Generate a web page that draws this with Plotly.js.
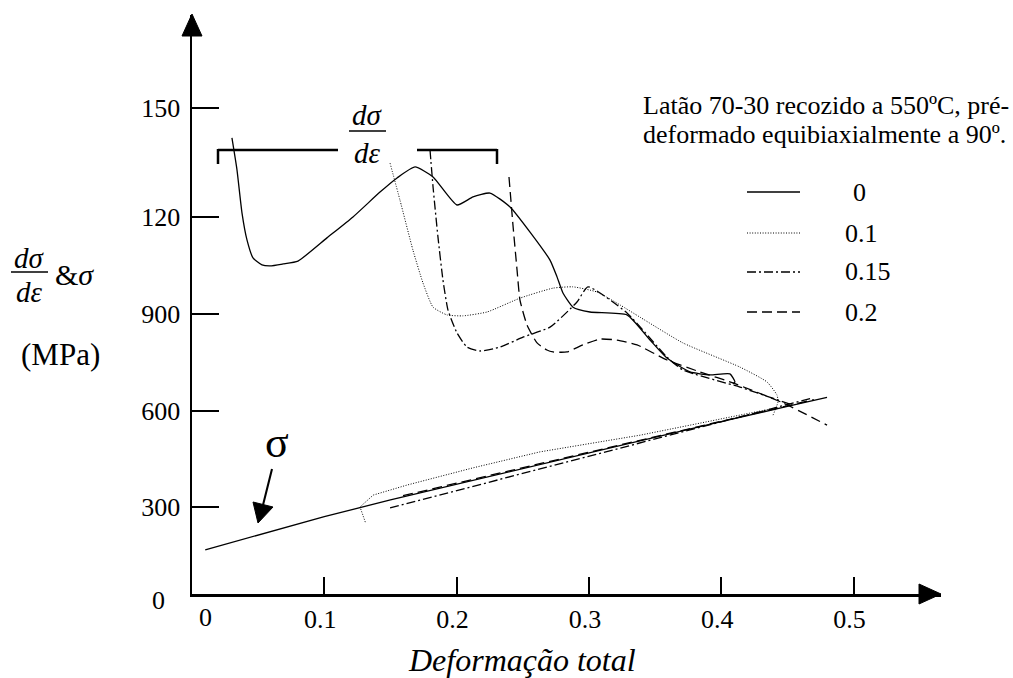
<!DOCTYPE html>
<html>
<head>
<meta charset="utf-8">
<script src="https://cdn.plot.ly/plotly-3.0.1.min.js"></script>
<style>
html,body{margin:0;padding:0;background:#fff;}
#chart{width:1013px;height:678px;}
</style>
</head>
<body>
<div id="chart"></div>
<script>
// ---------- data ----------
const xTickVals = [0.1, 0.2, 0.3, 0.4, 0.5];
const xTickText = ['0.1', '0.2', '0.3', '0.4', '0.5'];
const yTickVals = [300, 600, 900, 1200, 1540];
const yTickText = ['300', '600', '900', '120', '150'];
const seriesNames = ['0', '0.1', '0.15', '0.2'];

// pre-strain 0 : stress and hardening rate
const sig0X = [0.01, 0.05, 0.1, 0.15, 0.2, 0.25, 0.3, 0.35, 0.4, 0.45, 0.48];
const sig0Y = [168, 214, 271, 323, 372, 421, 470, 519, 566, 613, 641];
const rate0X = [0.0302, 0.0340, 0.0378, 0.0416, 0.0461, 0.0529, 0.0590, 0.0688, 0.0801, 0.1020, 0.1217, 0.1421, 0.1550, 0.1686, 0.1822, 0.2003, 0.2124, 0.2252, 0.2404, 0.2555, 0.2706, 0.2759, 0.2804, 0.2880, 0.3008, 0.3288, 0.3462, 0.3590, 0.3764, 0.3915, 0.4066, 0.4104, 0.4089];
const rate0Y = [1446, 1347, 1213, 1129, 1074, 1052, 1049, 1055, 1064, 1136, 1201, 1278, 1322, 1356, 1325, 1238, 1263, 1275, 1232, 1154, 1067, 1015, 965, 921, 906, 897, 819, 763, 720, 711, 714, 689, 683];

// pre-strain 0.1
const sig01X = [0.131, 0.127, 0.137, 0.1625, 0.212, 0.263, 0.339, 0.40, 0.4407];
const sig01Y = [254, 301, 338, 369, 422, 472, 524, 575, 608];
const rate01X = [0.1497, 0.1572, 0.1670, 0.1746, 0.1822, 0.1927, 0.2048, 0.2230, 0.2479, 0.2729, 0.2880, 0.3061, 0.3235, 0.3386, 0.3711, 0.4142, 0.4346, 0.4422, 0.4429, 0.4392];
const rate01Y = [1368, 1253, 1098, 996, 921, 897, 894, 906, 949, 980, 984, 968, 928, 890, 810, 735, 689, 648, 627, 586];

// pre-strain 0.15
const sig015X = [0.1497, 0.25, 0.3386, 0.469];
const sig015Y = [298, 405, 500, 639];
const rate015X = [0.1799, 0.1822, 0.1859, 0.1897, 0.1935, 0.2003, 0.2079, 0.2177, 0.2328, 0.2502, 0.2706, 0.2910, 0.2993, 0.3288, 0.3590, 0.3711, 0.4142, 0.452];
const rate015Y = [1409, 1294, 1139, 1005, 912, 841, 797, 785, 797, 828, 859, 937, 984, 903, 766, 726, 673, 620];

// pre-strain 0.2
const sig02X = [0.1595, 0.25, 0.35, 0.47];
const sig02Y = [336, 423, 521, 634];
const rate02X = [0.2396, 0.2426, 0.2457, 0.2479, 0.2532, 0.2608, 0.2683, 0.2729, 0.2834, 0.2955, 0.3084, 0.3212, 0.3364, 0.3590, 0.3840, 0.4089, 0.4467, 0.4800];
const rate02Y = [1325, 1176, 1036, 943, 866, 810, 788, 782, 782, 804, 822, 819, 804, 757, 720, 686, 624, 555];

// ---------- styles ----------
const TXT_FONT = 'Liberation Serif';
const styles = [
  {dash: 'solid', width: 1.3},
  {dash: '1px,1.6px', width: 1},
  {dash: '9px,3px,2px,3px', width: 1.3},
  {dash: '10px,5px', width: 1.3}
];

// plot area in pixels
const L = 192, R = 941, T = 15, B = 594;
const W = 1013, H = 678;
const px = x => (x - L) / (R - L);
const py = y => (B - y) / (B - T);

const pairs = [[sig0X, sig0Y, rate0X, rate0Y], [sig01X, sig01Y, rate01X, rate01Y],
               [sig015X, sig015Y, rate015X, rate015Y], [sig02X, sig02Y, rate02X, rate02Y]];
const traces = [];
pairs.forEach((p, i) => {
  const line = {color: 'black', width: styles[i].width, dash: styles[i].dash, shape: 'spline', smoothing: 0.5};
  traces.push({x: p[0], y: p[1], mode: 'lines', line: Object.assign({}, line, {shape: 'linear'}), name: seriesNames[i] + ' σ', showlegend: false});
  traces.push({x: p[2], y: p[3], mode: 'lines', line: line, name: seriesNames[i] + ' dσ/dε', showlegend: false});
});

const shapes = [];
const annotations = [];
const seg = (x0, y0, x1, y1, w, dash) => shapes.push({type: 'line', xref: 'paper', yref: 'paper',
  x0: px(x0), y0: py(y0), x1: px(x1), y1: py(y1), line: {color: 'black', width: w || 2.5, dash: dash || 'solid'}});
const tri = (pts) => shapes.push({type: 'path', xref: 'paper', yref: 'paper',
  path: 'M ' + pts.map(p => px(p[0]) + ' ' + py(p[1])).join(' L ') + ' Z',
  fillcolor: 'black', line: {color: 'black', width: 1}});
const text = (t, x, y, size, opts) => annotations.push(Object.assign({text: t, xref: 'paper', yref: 'paper',
  x: px(x), y: py(y), showarrow: false, xanchor: 'center', yanchor: 'middle',
  font: {family: TXT_FONT, size: size, color: 'black'}}, opts || {}));

// axis arrowheads
tri([[941, 594], [919, 584], [919, 604]]);
tri([[192, 14], [182, 36], [202, 36]]);

// bracket around dσ/dε label
seg(218, 150, 338, 150); seg(417, 150, 497, 150);
seg(218, 149, 218, 164); seg(497, 149, 497, 164);
text('<i>dσ</i>', 367, 115, 29);
seg(349, 131, 386, 131, 1.5);
text('<i>dε</i>', 367, 153, 29);

// y axis title
text('<i>dσ</i>', 29, 258, 29);
seg(11, 272, 48, 272, 1.5);
text('<i>dε</i>', 29, 292, 29);
text('&amp;<i>σ</i>', 74, 274, 30);
text('(MPa)', 60, 354, 31);

// zero labels
text('0', 158, 601, 26);
text('0', 205, 617, 26);

// x axis title
text('<i>Deformação total</i>', 522, 660, 32);

// sigma arrow
text('σ', 277, 442, 44);
seg(272, 469, 263, 505, 2);
tri([[258, 523], [253, 502], [273, 507]]);

// description
text('Latão 70-30 recozido a 550ºC, pré-', 641, 106, 26, {xanchor: 'left'});
text('deformado equibiaxialmente a 90º.', 641, 135, 26, {xanchor: 'left'});

// legend
const legY = [192, 233, 272, 312];
const legLabelX = [851, 843, 843, 843];
seriesNames.forEach((n, i) => {
  seg(747, legY[i], 800, legY[i], styles[i].width, styles[i].dash);
  text(n, legLabelX[i], legY[i], 26, {xanchor: 'left'});
});

const layout = {
  width: W, height: H,
  margin: {l: L, r: W - R, t: T, b: H - B, pad: 0},
  paper_bgcolor: 'white', plot_bgcolor: 'white',
  font: {family: TXT_FONT, color: 'black', size: 26},
  showlegend: false,
  xaxis: {range: [0, (R - L) / 1323], tickvals: xTickVals, ticktext: xTickText,
          ticks: 'inside', ticklen: 17, tickwidth: 2, tickcolor: 'black',
          showline: true, linewidth: 2.5, linecolor: 'black', showgrid: false, zeroline: false,
          ticklabelshift: -4, ticklabelstandoff: 0,
          tickfont: {family: TXT_FONT, size: 26, color: 'black'}},
  yaxis: {range: [(604 - 594) / 0.3223, (604 - 15) / 0.3223], tickvals: yTickVals, ticktext: yTickText,
          ticks: 'inside', ticklen: 27, tickwidth: 2, tickcolor: 'black',
          showline: true, linewidth: 2.5, linecolor: 'black', showgrid: false, zeroline: false,
          ticklabelstandoff: 4,
          tickfont: {family: TXT_FONT, size: 26, color: 'black'}},
  shapes: shapes,
  annotations: annotations
};

Plotly.newPlot('chart', traces, layout, {displayModeBar: false, staticPlot: true});
</script>
</body>
</html>
